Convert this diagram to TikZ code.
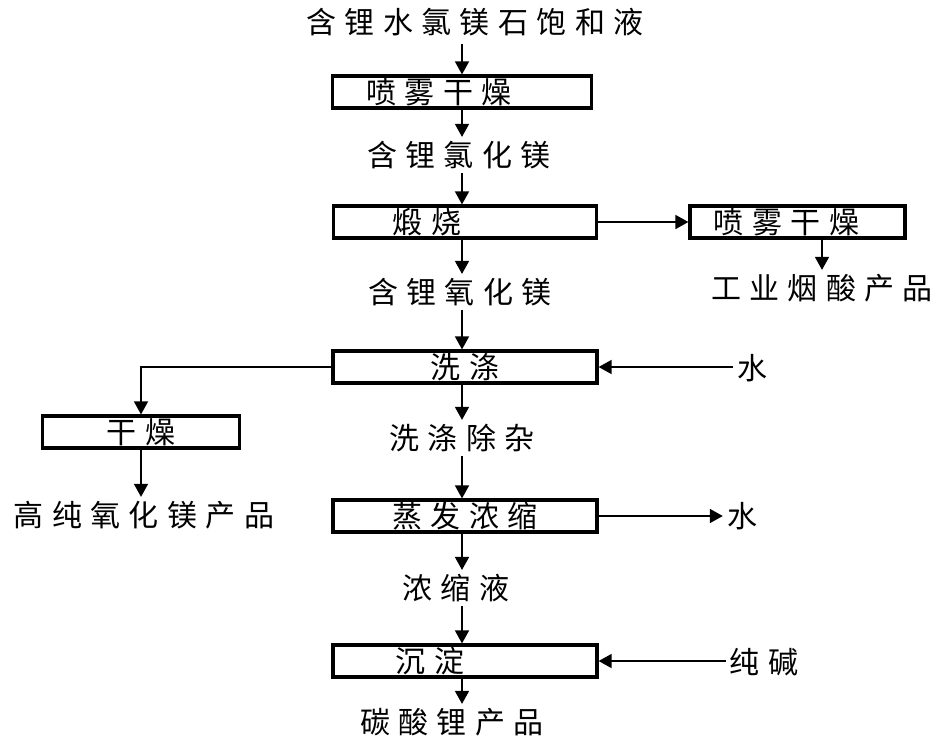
\documentclass[tikz,border=0pt]{standalone}
\usepackage{fontspec}
\newfontfamily\cjk[LetterSpace=28]{Noto Sans CJK SC}
\usetikzlibrary{arrows.meta}
\newcommand\shl[1]{\hspace*{-#1pt}}
\begin{document}
\begin{tikzpicture}[x=1pt,y=-1pt,
  every node/.style={font=\cjk\fontsize{30}{30}\selectfont, inner sep=4pt},
  proc/.style={draw, line width=3.2pt, minimum height=32pt, inner sep=0pt},
  arr/.style={line width=1.6pt, -{Triangle[length=13pt,width=14pt]}},
  ln/.style={line width=1.6pt}]
\useasboundingbox (0,0) rectangle (950,740);
\fill[white] (0,0) rectangle (950,740);
% nodes
\node (t0) at (475,22) {含锂水氯镁石饱和液};
\node[proc, minimum width=259pt] (b1) at (462,92) {\shl{46}喷雾干燥};
\node (t1) at (459,155) {含锂氯化镁};
\node[proc, minimum width=263pt] (b2) at (465,222) {\shl{76}煅烧};
\node[proc, minimum width=215pt] (b3) at (797.5,222) {\shl{22}喷雾干燥};
\node (t3) at (822,288) {工业烟酸产品};
\node (t2) at (460,292) {含锂氧化镁};
\node[proc, minimum width=264pt] (b4) at (465,367) {洗涤};
\node (w1) at (752,368) {水};
\node[proc, minimum width=197pt] (b5) at (141,432) {干燥};
\node (t5) at (144,515) {高纯氧化镁产品};
\node (t4) at (462,438) {洗涤除杂};
\node[proc, minimum width=264pt] (b6) at (465,516) {蒸发浓缩};
\node (w2) at (742,516) {水};
\node (t6) at (456,588) {浓缩液};
\node[proc, minimum width=264pt] (b7) at (465,661) {\shl{70}沉淀};
\node (t7) at (764,662) {纯碱};
\node (t8) at (452,722) {碳酸锂产品};
% connectors
\draw[arr] (462,44) coordinate (c0) -- (c0 |- b1.north);
\draw[arr] (b1.south -| c0) -- (c0 |- t1.north);
\draw[arr] (t1.south -| c0) -- (c0 |- b2.north);
\draw[arr] (b2.east) -- (b3.west);
\draw[arr] (b3.south -| t3) -- (t3.north);
\draw[arr] (b2.south -| c0) -- (c0 |- t2.north);
\draw[arr] (t2.south -| c0) -- (c0 |- b4.north);
\draw[arr] (b4.east -| w1.west) -- (b4.east);
\draw[arr] (b4.west) -| (b5.north);
\draw[arr] (b5.south) -- (b5.south |- t5.north);
\draw[arr] (b4.south -| c0) -- (c0 |- t4.north);
\draw[arr] (t4.south -| c0) -- (c0 |- b6.north);
\draw[arr] (b6.east) -- (b6.east -| w2.west);
\draw[arr] (b6.south -| c0) -- (c0 |- t6.north);
\draw[arr] (t6.south -| c0) -- (c0 |- b7.north);
\draw[arr] (b7.east -| t7.west) -- (b7.east);
\draw[arr] (b7.south -| c0) -- (c0 |- t8.north);
\end{tikzpicture}
\end{document}
